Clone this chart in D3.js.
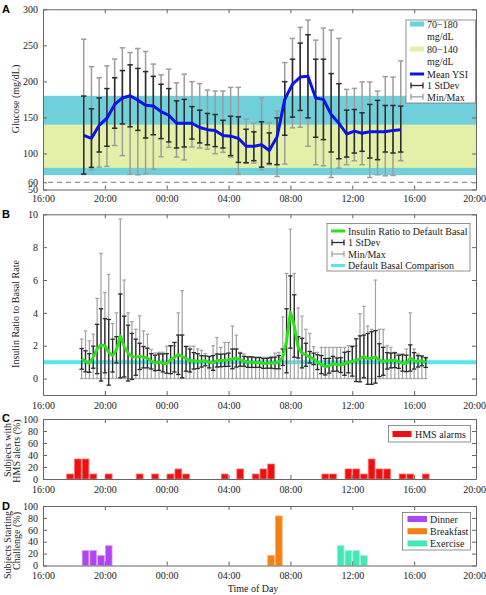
<!DOCTYPE html>
<html><head><meta charset="utf-8">
<script src="https://cdn.jsdelivr.net/npm/d3@7"></script>
<style>
body{margin:0;background:#fff}
svg{display:block;font-family:"Liberation Serif","Times New Roman",serif}
</style></head><body>
<svg id="c" width="486" height="595"></svg>
<script>
// ---------- Panel A: glucose (30-min bins) ----------
const glucTimes = ["18:38","19:08","19:38","20:08","20:38","21:08","21:38","22:08","22:38","23:08","23:38","00:08","00:38","01:08","01:38","02:08","02:38","03:08","03:38","04:08","04:38","05:08","05:38","06:08","06:38","07:08","07:38","08:08","08:38","09:08","09:38","10:08","10:38","11:08","11:38","12:08","12:38","13:08","13:38","14:08","14:38","15:08"];
const glucMean = [125,121,139,149,168,177,180,174,167,166,158,153,142,142,142,136,133,132,125,124,121,110,110,112,104,123,175,196,206,207,177,175,154,142,127,131,128,130,130,130,132,133];
const glucSdUpper = [179.6,162,177,190,205,215,223,218,213.6,207,196,190,173,175,165,160,155.5,154,146,151.7,150.8,133.6,130,144,128.5,149.4,199.6,230.8,253.1,264.7,230.8,230.8,210.8,196.8,160.1,161,156.4,168,173.6,166.6,166.6,165.7];
const glucSdLower = [71.4,80.7,102,110,135,141,137,132,121.5,126,120.6,116,107.6,109,120,114.6,112,109.5,107.6,97,87.6,87.2,90,81,86,84.4,125.3,150.4,159.7,149.4,122.5,119.2,102,92.7,95,100.6,103,93.7,91.4,102,100.6,102];
const glucMax = [258.6,220.5,205,221.5,231,246.6,240,245.6,241.5,224,209,217,198,210,199.6,197,188,186.6,186.6,191.7,191.7,147.6,142,177,142.5,159,226.1,259.6,274.9,285.1,257.2,274,271.2,259.6,188.9,190.3,199.2,199.2,186.6,206.6,206,228.4];
const glucMin = [71,77.4,81,82,111,97,71,70.4,72,78,95.5,108.5,95,91,109,107.6,106,99.7,101.6,95,71,86.7,86.7,77.4,84.4,68,85.3,135.5,136.4,110,84.4,83,66.7,79.7,84.4,89.9,84.4,66.7,70.4,69,69.5,90];
const glucBands = [{lo:70, hi:180, label:["70\u2212180","mg/dL"]},{lo:80, hi:140, label:["80\u2212140","mg/dL"]}];
const glucHypoLine = 60;
const glucTicks = [50,60,100,150,200,250,300];

// ---------- Panel B: insulin ratio (15-min bins) ----------
const insTimes = ["18:30","18:45","19:00","19:15","19:30","19:45","20:00","20:15","20:30","20:45","21:00","21:15","21:30","21:45","22:00","22:15","22:30","22:45","23:00","23:15","23:30","23:45",
"00:00","00:15","00:30","00:45","01:00","01:15","01:30","01:45","02:00","02:15","02:30","02:45","03:00","03:15","03:30","03:45","04:00","04:15","04:30","04:45","05:00","05:15","05:30","05:45",
"06:00","06:15","06:30","06:45","07:00","07:15","07:30","07:45","08:00","08:15","08:30","08:45","09:00","09:15","09:30","09:45","10:00","10:15","10:30","10:45","11:00","11:15","11:30","11:45",
"12:00","12:15","12:30","12:45","13:00","13:15","13:30","13:45","14:00","14:15","14:30","14:45","15:00","15:15","15:30","15:45","16:00","16:15","16:30","16:45"];
const insMean = [1.2,1.05,0.95,1.3,1.8,2.05,2.0,1.6,1.4,1.75,
2.6,1.95,1.55,1.35,1.3,1.35,1.3,1.25,1.05,0.95,
1.0,0.95,0.92,1.15,1.3,1.45,1.35,1.2,1.1,1.08,
1.06,1.05,1.08,1.0,0.95,1.1,1.1,1.12,1.15,1.2,
1.25,1.15,1.05,1.0,1.0,0.98,0.98,0.92,0.93,0.95,
0.95,1.0,1.3,2.3,4.05,3.2,1.9,1.55,1.45,1.3,
1.2,1.0,0.85,0.72,0.78,0.9,0.85,0.82,0.9,1.0,
1.05,1.12,1.2,1.35,1.2,1.25,1.32,1.12,1.05,1.08,
1.1,1.12,1.02,0.95,0.92,1.25,1.08,1.05,1.08,0.98];
const insSd = [0.63,0.64,0.57,0.67,1.5,2.2,1.65,2.0,1.0,0.8,
2.55,1.85,1.7,1.4,1.1,0.8,0.65,0.6,0.47,0.47,
0.5,0.55,0.6,0.85,0.9,1.2,1.3,0.75,0.7,0.5,
0.45,0.35,0.3,0.35,0.45,0.4,0.38,0.38,0.4,0.6,
0.55,0.4,0.3,0.32,0.32,0.3,0.3,0.3,0.3,0.32,
0.35,0.4,0.5,1.95,2.2,1.9,0.65,0.9,0.7,0.35,
0.35,0.45,0.55,0.5,0.45,0.45,0.4,0.45,0.7,0.65,
0.9,1.3,1.4,1.3,1.55,1.6,1.6,1.0,0.85,0.5,
0.45,0.45,0.4,0.5,0.5,0.8,0.5,0.35,0.3,0.3];
const insMax = [2.4,2.9,2.3,2.7,4.88,7.62,5.24,6.34,3.35,4.0,
9.72,6.0,4.0,3.46,3.0,3.82,2.9,2.7,1.77,1.56,
1.6,1.6,1.97,1.97,2.0,4.0,5.35,1.97,1.97,1.97,
1.8,1.72,1.52,1.32,2.0,2.5,1.9,2.2,2.2,3.2,
2.64,1.6,1.5,1.35,1.3,1.3,1.3,1.3,1.3,1.35,
1.55,1.6,3.75,6.4,9.1,6.4,4.3,3.8,3.0,2.75,
1.95,1.6,1.9,1.9,1.9,1.9,1.9,1.9,1.9,2.0,
2.0,2.0,3.95,4.4,3.2,3.0,6.0,3.0,3.0,2.0,
1.9,1.6,1.5,1.5,1.8,4.0,1.8,1.5,1.3,1.2];
const insMin = 0;
const basalRatio = 1;
const insTicks = [0,2,4,6,8,10];

// ---------- Panel C: HMS alarms (30-min bins) ----------
const alarmTimes = ["17:45","18:15","18:45","19:15","20:15","22:15","23:15","00:15","00:45","01:15","03:45","04:45","05:45","06:15","06:45","10:15","10:45","11:45","12:15","12:45","13:15","13:45","14:15","15:15","15:45","16:45"];
const alarmPct = [8.3,33.3,33.3,8.3,8.3,8.3,8.3,8.3,16.7,8.3,8.3,16.7,8.3,16.7,25,8.3,8.3,16.7,16.7,8.3,33.3,16.7,16.7,8.3,8.3,8.3];

// ---------- Panel D: challenge starts ----------
const dinnerTimes = ["18:45","19:15","19:45","20:15"];
const dinnerPct = [25,25,16.7,33.3];
const breakfastTimes = ["06:45","07:15"];
const breakfastPct = [16.7,83.3];
const exerciseTimes = ["11:15","11:45","12:15","12:45"];
const exercisePct = [33.3,25,25,16.7];
const pctTicks = [0,20,40,60,80,100];

// ---------- helpers ----------
const svg = d3.select("#c");
const parseT = s => { const [h,m] = s.split(":").map(Number); return new Date(2000,0,(h+m/60) < 17.5 ? 2 : 1,h,m); };
const x = d3.scaleTime().domain([new Date(2000,0,1,16), new Date(2000,0,2,20)]).range([43,476]);
const AX = "#666", TXT = "#1a1a1a";

function frame(y, ticks, top, bottom, pad) {
  const g = svg.append("g");
  const style = s => { s.selectAll("path").attr("stroke",AX); s.selectAll("line").attr("stroke",AX);
    s.selectAll("text").attr("fill",TXT).attr("font-size",10).attr("font-family","Liberation Serif, serif"); };
  g.append("g").attr("transform","translate(43,0)")
    .call(d3.axisLeft(y).tickValues(ticks).tickSizeInner(-4).tickSizeOuter(0).tickPadding(5)).call(style);
  g.append("g").attr("transform","translate(476,0)")
    .call(d3.axisRight(y).tickValues(ticks).tickSizeInner(-4).tickSizeOuter(0).tickFormat("")).call(style);
  const bx = g.append("g").attr("transform",`translate(0,${bottom})`)
    .call(d3.axisBottom(x).ticks(d3.timeHour.every(4)).tickFormat(d3.timeFormat("%H:%M")).tickSizeInner(-4).tickSizeOuter(0).tickPadding(pad)).call(style);
  const labs = bx.selectAll(".tick text").nodes();
  d3.select(labs[labs.length-1]).attr("dx",-1.8);
  g.append("g").attr("transform",`translate(0,${top})`)
    .call(d3.axisTop(x).ticks(d3.timeHour.every(4)).tickFormat("").tickSizeInner(-4).tickSizeOuter(0)).call(style);
  g.selectAll(".domain").attr("stroke-width",1);
  return g;
}
function errBars(g, times, lo, hi, color, capW, sw) {
  const gg = g.append("g").attr("stroke",color).attr("stroke-width",sw).attr("fill","none");
  times.forEach((t,i) => {
    const xx = x(parseT(t)), a = lo(i), b = hi(i);
    gg.append("line").attr("x1",xx).attr("x2",xx).attr("y1",a).attr("y2",b);
    gg.append("line").attr("x1",xx-capW).attr("x2",xx+capW).attr("y1",a).attr("y2",a);
    gg.append("line").attr("x1",xx-capW).attr("x2",xx+capW).attr("y1",b).attr("y2",b);
  });
}
function legendErr(g, x0, x1, yy, color, sw) {
  g.append("line").attr("x1",x0).attr("x2",x1).attr("y1",yy).attr("y2",yy).attr("stroke",color).attr("stroke-width",sw);
  g.append("line").attr("x1",x0).attr("x2",x0).attr("y1",yy-3).attr("y2",yy+3).attr("stroke",color).attr("stroke-width",sw);
  g.append("line").attr("x1",x1).attr("x2",x1).attr("y1",yy-3).attr("y2",yy+3).attr("stroke",color).attr("stroke-width",sw);
}
function txt(g, xx, yy, s, opt={}) {
  return g.append("text").attr("x",xx).attr("y",yy).text(s).attr("font-size",opt.size||10)
    .attr("fill",TXT).attr("text-anchor",opt.anchor||"start");
}
function ylab(lines, cys, xs) {
  lines.forEach((s,i) => svg.append("text").attr("transform",`translate(${xs[i]},${cys[i]}) rotate(-90)`)
    .attr("text-anchor","middle").attr("font-size",10).attr("fill",TXT).text(s));
}
function panelLabel(s, yy) {
  svg.append("text").attr("x",2).attr("y",yy).text(s).attr("font-family","Liberation Sans, Arial, sans-serif")
    .attr("font-weight","bold").attr("font-size",11).attr("fill","#000");
}

// ================= Panel A =================
const yA = d3.scaleLinear().domain([50,300]).range([189.5,9.3]);
const gA = svg.append("g");
const bandColors = ["#6fd0db","#e4efa8"];
glucBands.forEach((b,i) => gA.append("rect").attr("x",43).attr("width",433)
  .attr("y",yA(b.hi)).attr("height",yA(b.lo)-yA(b.hi)).attr("fill",bandColors[i]));
gA.append("line").attr("x1",48).attr("x2",472).attr("y1",yA(glucHypoLine)).attr("y2",yA(glucHypoLine))
  .attr("stroke","#777").attr("stroke-width",1).attr("stroke-dasharray","5,4");
errBars(gA, glucTimes, i=>yA(glucMin[i]), i=>yA(glucMax[i]), "#9d9d9d", 2.7, 1.5);
errBars(gA, glucTimes, i=>yA(glucSdLower[i]), i=>yA(glucSdUpper[i]), "#2b2b2b", 2.7, 1.5);
gA.append("path").datum(glucTimes.map((t,i)=>[x(parseT(t)), yA(glucMean[i])]))
  .attr("d", d3.line()).attr("fill","none").attr("stroke","#0a14e6").attr("stroke-width",3).attr("stroke-linejoin","round");
frame(yA, glucTicks, 9.3, 189.5, 5);
// legend A
const lA = svg.append("g");
lA.append("rect").attr("x",406).attr("y",20).attr("width",69.5).attr("height",83).attr("fill","#fff").attr("stroke","#777").attr("stroke-width",0.8);
lA.append("rect").attr("x",410).attr("y",21.5).attr("width",14).attr("height",5).attr("fill",bandColors[0]);
txt(lA,427,27.5,glucBands[0].label[0]); txt(lA,427,39.5,glucBands[0].label[1]);
lA.append("rect").attr("x",410).attr("y",46.5).attr("width",14).attr("height",5).attr("fill",bandColors[1]);
txt(lA,427,52.5,glucBands[1].label[0]); txt(lA,427,65,glucBands[1].label[1]);
lA.append("line").attr("x1",410).attr("x2",424).attr("y1",74).attr("y2",74).attr("stroke","#0a14e6").attr("stroke-width",3);
txt(lA,427,77.5,"Mean YSI");
legendErr(lA,411,423,85.5,"#2b2b2b",1.3); txt(lA,427,89,"1 StDev");
legendErr(lA,411,423,96.8,"#9d9d9d",1.3); txt(lA,427,100.5,"Min/Max");
ylab(["Glucose (mg/dL)"],[99],[18.5]);
panelLabel("A",13);

// ================= Panel B =================
const yB = d3.scaleLinear().domain([-1,10]).range([395,214.3]);
const gB = svg.append("g");
gB.append("line").attr("x1",43).attr("x2",476).attr("y1",yB(basalRatio)).attr("y2",yB(basalRatio))
  .attr("stroke","#55e6ee").attr("stroke-width",4);
errBars(gB, insTimes, i=>yB(insMin), i=>yB(insMax[i]), "#a2a2a2", 1.8, 1.2);
errBars(gB, insTimes, i=>yB(insMean[i]-insSd[i]), i=>yB(insMean[i]+insSd[i]), "#2b2b2b", 2.2, 1.3);
gB.append("path").datum(insTimes.map((t,i)=>[x(parseT(t)), yB(insMean[i])]))
  .attr("d", d3.line()).attr("fill","none").attr("stroke","#2ee01e").attr("stroke-width",3).attr("stroke-linejoin","round");
frame(yB, insTicks, 214.3, 395, 7);
const lB = svg.append("g");
lB.append("rect").attr("x",327).attr("y",223.5).attr("width",143).attr("height",47.5).attr("fill","#fff").attr("stroke","#777").attr("stroke-width",0.8);
lB.append("line").attr("x1",331).attr("x2",345).attr("y1",231).attr("y2",231).attr("stroke","#2ee01e").attr("stroke-width",3);
txt(lB,348,234.5,"Insulin Ratio to Default Basal");
legendErr(lB,332,344,242.5,"#2b2b2b",1.3); txt(lB,348,246,"1 StDev");
legendErr(lB,332,344,254,"#a2a2a2",1.3); txt(lB,348,257.5,"Min/Max");
lB.append("line").attr("x1",331).attr("x2",345).attr("y1",265.5).attr("y2",265.5).attr("stroke","#55e6ee").attr("stroke-width",3);
txt(lB,348,269,"Default Basal Comparison");
ylab(["Insulin Ratio to Basal Rate"],[314],[18.5]);
panelLabel("B",218);

// ================= Panel C =================
const yC = d3.scaleLinear().domain([0,100]).range([479,419]);
const half = t => [d3.timeMinute.offset(parseT(t),-13), d3.timeMinute.offset(parseT(t),13)];
function bars(g, times, vals, y, fill, stroke) {
  g.selectAll(null).data(times).enter().append("rect")
    .attr("x", t => x(half(t)[0])).attr("width", t => x(half(t)[1]) - x(half(t)[0]))
    .attr("y", (t,i) => y(vals[i])).attr("height", (t,i) => y(0) - y(vals[i]))
    .attr("fill", fill).attr("stroke", stroke).attr("stroke-width",0.8);
}
const gC = svg.append("g");
bars(gC, alarmTimes, alarmPct, yC, "#ee1010", "#ff6b6b");
frame(yC, pctTicks, 419, 479, 6.5);
const lC = svg.append("g");
lC.append("rect").attr("x",388.5).attr("y",425.5).attr("width",82).attr("height",16.5).attr("fill","#fff").attr("stroke","#777").attr("stroke-width",0.8);
lC.append("rect").attr("x",392.5).attr("y",431).attr("width",19).attr("height",6).attr("fill","#ee1010");
txt(lC,415,437.5,"HMS alarms");
ylab(["Subjects with","HMS alerts (%)"],[450,451],[10.5,20]);
panelLabel("C",422);

// ================= Panel D =================
const yD = d3.scaleLinear().domain([0,100]).range([565.5,506]);
const gD = svg.append("g");
const colD = {Dinner:"#b044f2", Breakfast:"#f57f12", Exercise:"#44e8b4"};
bars(gD, dinnerTimes, dinnerPct, yD, colD.Dinner, "#d69cf8");
bars(gD, breakfastTimes, breakfastPct, yD, colD.Breakfast, "#f9b070");
bars(gD, exerciseTimes, exercisePct, yD, colD.Exercise, "#98f2d6");
frame(yD, pctTicks, 506, 565.5, 6.5);
const lD = svg.append("g");
lD.append("rect").attr("x",402.5).attr("y",512.5).attr("width",68).attr("height",37.5).attr("fill","#fff").attr("stroke","#777").attr("stroke-width",0.8);
["Dinner","Breakfast","Exercise"].forEach((k,i) => {
  const yy = 519 + i*12.2;
  lD.append("rect").attr("x",407.5).attr("y",yy-3).attr("width",19.5).attr("height",6).attr("fill",colD[k]);
  txt(lD,430,yy+3.5,k);
});
ylab(["Subjects Starting","Challenge (%)"],[545,541],[10.5,20]);
panelLabel("D",510);
txt(svg,253,592,"Time of Day",{anchor:"middle"});
</script>
</body></html>
